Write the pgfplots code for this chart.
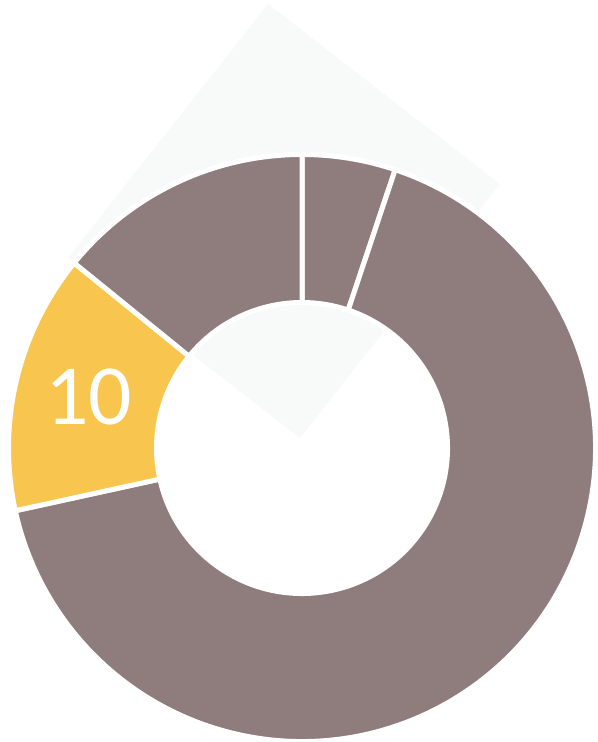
\documentclass[border=0pt]{standalone}
\usepackage{pgfplots}
\pgfplotsset{compat=1.18}
\usepackage{pgfplotstable}
\usepackage{fontspec}
\setmainfont{Carlito}
\definecolor{slicegray}{HTML}{8F7D7D}
\definecolor{sliceyellow}{HTML}{F8C64F}
\definecolor{diamondfill}{HTML}{F8F9F9}

\pgfplotstableread{
value color
3.6  slicegray
46.5 slicegray
10   sliceyellow
9.9  slicegray
}\donutdata

\begin{document}
\begin{tikzpicture}
\begin{axis}[
  name=ax,
  x=1bp, y=1bp,
  xmin=0, xmax=598, ymin=0, ymax=742,
  scale only axis,
  axis line style={draw=none},
  ticks=none,
  clip=false,
]
% background
\addplot[fill=white, draw=none] coordinates {(0,0) (598,0) (598,742) (0,742)} -- cycle;
% faint diamond
\addplot[fill=diamondfill, draw=none] coordinates {(268,738) (500,558) (300,304) (68,484)} -- cycle;

\gdef\total{0}
\pgfplotsforeachungrouped \i in {0,...,3}{%
  \pgfplotstablegetelem{\i}{value}\of\donutdata
  \pgfmathsetmacro\tmp{\total+\pgfplotsretval}
  \xdef\total{\tmp}
}
\gdef\cumsum{0}
\pgfplotsforeachungrouped \i in {0,...,3}{%
  \pgfplotstablegetelem{\i}{value}\of\donutdata
  \let\v\pgfplotsretval
  \pgfmathsetmacro\azero{90-\cumsum/\total*360}
  \pgfmathsetmacro\tmp{\cumsum+\v}
  \xdef\cumsum{\tmp}
  \pgfmathsetmacro\aone{90-\cumsum/\total*360}
  \pgfplotstablegetelem{\i}{color}\of\donutdata
  \let\col\pgfplotsretval
  \edef\doslice{\noexpand\fill[\col, draw=white, line width=5bp, line join=miter]
    ([shift={(\azero:293.5bp)}]axis cs:302,294)
    arc[start angle=\azero, end angle=\aone, radius=293.5bp]
    -- ([shift={(\aone:145.5bp)}]axis cs:302,294)
    arc[start angle=\aone, end angle=\azero, radius=145.5bp] -- cycle;}
  \doslice
  \ifnum\i=2
    \pgfmathsetmacro\lmid{(\azero+\aone)/2}
    \pgfmathtruncatemacro\lval{\v}
    \edef\dolabel{\noexpand\node[text=white, font=\noexpand\fontsize{86}{86}\noexpand\selectfont, inner sep=0pt]
      at ([shift={(\lmid:219.5bp)}]axis cs:302,294) {\lval};}
    \dolabel
  \fi
}
\end{axis}
\pgfresetboundingbox
\path[use as bounding box] (ax.south west) rectangle (ax.north east);
\end{tikzpicture}
\end{document}
